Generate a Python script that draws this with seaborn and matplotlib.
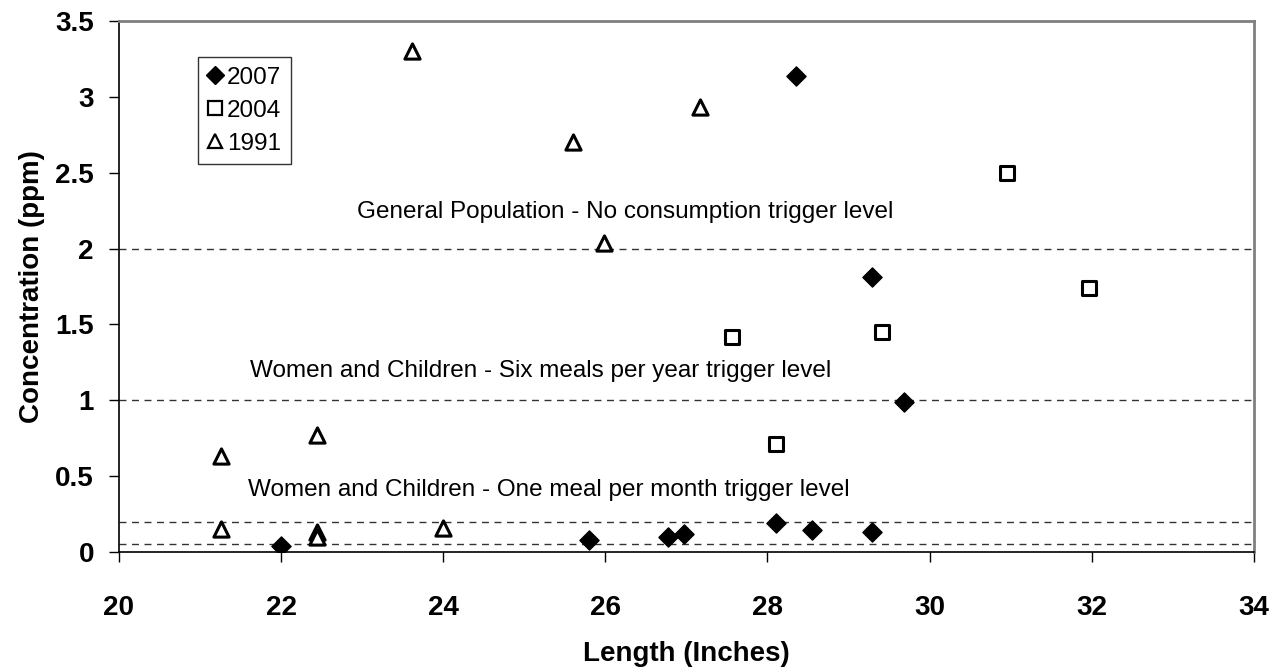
import pandas as pd
import seaborn as sns
import matplotlib.pyplot as plt
from matplotlib.lines import Line2D

# Dados
len_2007 = [22.0, 25.8, 26.77, 26.97, 28.1, 28.55, 29.29, 28.35, 29.29, 29.68]
conc_2007 = [0.04, 0.08, 0.10, 0.12, 0.19, 0.145, 0.13, 3.14, 1.81, 0.99]

len_2004 = [27.56, 28.1, 29.41, 30.95, 31.97]
conc_2004 = [1.42, 0.71, 1.45, 2.50, 1.74]

len_1991 = [21.26, 21.26, 22.44, 22.44, 22.44, 24.0, 23.62, 25.6, 25.98, 27.17]
conc_1991 = [0.63, 0.15, 0.77, 0.13, 0.10, 0.16, 3.30, 2.70, 2.04, 2.93]

trigger_levels = [2.0, 1.0, 0.2, 0.05]
trigger_labels = ['General Population - No consumption trigger level',
                  'Women and Children - Six meals per year trigger level',
                  'Women and Children - One meal per month trigger level']
label_pos = [(26.25, 2.24), (25.2, 1.19), (25.3, 0.41)]

dados = pd.concat([
    pd.DataFrame({'length': len_2007, 'conc': conc_2007, 'ano': '2007'}),
    pd.DataFrame({'length': len_2004, 'conc': conc_2004, 'ano': '2004'}),
    pd.DataFrame({'length': len_1991, 'conc': conc_1991, 'ano': '1991'}),
])

sns.set_style('white')
plt.rcParams['font.family'] = ['Liberation Sans', 'DejaVu Sans']
plt.rcParams['text.color'] = 'black'
plt.rcParams['axes.labelcolor'] = 'black'
plt.rcParams['xtick.color'] = 'black'
plt.rcParams['ytick.color'] = 'black'

fig = plt.figure(figsize=(12.86, 6.67), dpi=100)
ax = fig.add_axes([0.0925, 0.1724, 0.8825, 0.7961])

# Linhas de referência
for nivel in trigger_levels:
    ax.axhline(nivel, color='#333333', lw=1, linestyle=(0, (5, 4)), zorder=1)

estilos = {
    '2007': dict(marker='D', s=95, color='black', edgecolor='black', linewidth=1),
    '2004': dict(marker='s', s=110, color='white', edgecolor='black', linewidth=2.2),
    '1991': dict(marker='^', s=120, color='white', edgecolor='black', linewidth=2.2),
}
for ano, est in estilos.items():
    sns.scatterplot(data=dados[dados['ano'] == ano], x='length', y='conc', ax=ax,
                    zorder=3, legend=False, **est)

for txt, (xp, yp) in zip(trigger_labels, label_pos):
    ax.text(xp, yp, txt, ha='center', va='center', fontsize=17.5)

ax.set_xlim(20, 34)
ax.set_ylim(0, 3.5)
ax.set_xticks(range(20, 35, 2))
ax.set_yticks([0, 0.5, 1, 1.5, 2, 2.5, 3, 3.5])
ax.set_yticklabels(['0', '0.5', '1', '1.5', '2', '2.5', '3', '3.5'])
ax.tick_params(axis='both', direction='out', length=7, width=1, color='black',
               labelsize=20, bottom=True, left=True)
ax.tick_params(axis='x', pad=24)
ax.tick_params(axis='y', pad=11)
for lab in ax.get_xticklabels() + ax.get_yticklabels():
    lab.set_fontweight('bold')

ax.spines['left'].set_color('black')
ax.spines['bottom'].set_color('black')
ax.spines['left'].set_linewidth(1.2)
ax.spines['bottom'].set_linewidth(1.2)
ax.spines['top'].set_color('#808080')
ax.spines['right'].set_color('#808080')
ax.spines['top'].set_linewidth(2)
ax.spines['right'].set_linewidth(2)

ax.set_xlabel('Length (Inches)', fontsize=20, fontweight='bold', labelpad=14)
ax.set_ylabel('Concentration (ppm)', fontsize=20, fontweight='bold', labelpad=7)

# Legenda
handles = [
    Line2D([], [], marker='D', color='black', linestyle='none', markersize=9),
    Line2D([], [], marker='s', markerfacecolor='white', markeredgecolor='black',
           markeredgewidth=1.6, linestyle='none', markersize=10),
    Line2D([], [], marker='^', markerfacecolor='white', markeredgecolor='black',
           markeredgewidth=1.6, linestyle='none', markersize=10),
]
leg = ax.legend(handles, ['2007', '2004', '1991'], loc='upper left',
                bbox_to_anchor=(0.0696, 0.932), borderaxespad=0, fontsize=17.5,
                frameon=True, fancybox=False, handlelength=0.6, handletextpad=0.2,
                labelspacing=0.45, borderpad=0.4)
leg.get_frame().set_edgecolor('black')
leg.get_frame().set_linewidth(1)

plt.savefig('out.png', dpi=100)
